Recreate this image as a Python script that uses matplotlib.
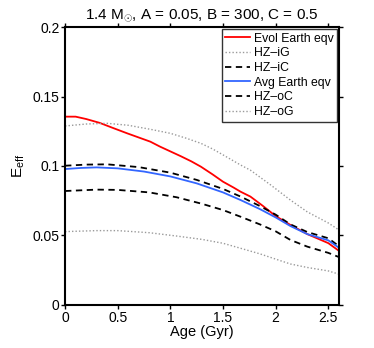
import matplotlib
matplotlib.use("Agg")
import matplotlib.pyplot as plt

plt.rcParams['font.family'] = ['Liberation Sans', 'DejaVu Sans']
plt.rcParams['mathtext.fontset'] = 'custom'
plt.rcParams['mathtext.rm'] = 'Liberation Sans'
plt.rcParams['mathtext.it'] = 'Liberation Sans:italic'

# Data
evol_x = [0.0, 0.1, 0.2, 0.33, 0.45, 0.59, 0.7, 0.81, 0.9, 1.0, 1.1, 1.2, 1.29, 1.4, 1.5, 1.6, 1.667, 1.76, 1.88, 2.0, 2.14, 2.3, 2.5, 2.6]
evol_y = [0.1355, 0.1355, 0.1338, 0.131, 0.1275, 0.1235, 0.1205, 0.1175, 0.114, 0.1105, 0.107, 0.1033, 0.0995, 0.094, 0.0887, 0.0845, 0.0815, 0.078, 0.0712, 0.064, 0.0576, 0.051, 0.0445, 0.039]

avg_x = [0.0, 0.15, 0.3, 0.5, 0.75, 1.0, 1.25, 1.5, 1.667, 1.85, 2.0, 2.14, 2.3, 2.5, 2.6]
avg_y = [0.0978, 0.0986, 0.099, 0.0983, 0.096, 0.0925, 0.0875, 0.081, 0.0755, 0.069, 0.063, 0.0568, 0.051, 0.0465, 0.0412]

iC_x = [0.0, 0.2, 0.4, 0.7, 1.0, 1.25, 1.5, 1.667, 1.85, 2.0, 2.14, 2.3, 2.5, 2.6]
iC_y = [0.1002, 0.101, 0.1012, 0.0992, 0.0952, 0.09, 0.0835, 0.078, 0.0712, 0.065, 0.058, 0.0525, 0.048, 0.0424]

oC_x = [0.0, 0.3, 0.5, 0.8, 1.06, 1.3, 1.5, 1.667, 1.85, 2.0, 2.14, 2.3, 2.5, 2.6]
oC_y = [0.082, 0.083, 0.0828, 0.081, 0.0775, 0.0728, 0.0683, 0.0635, 0.058, 0.053, 0.0468, 0.042, 0.0375, 0.0345]

iG_x = [0.0, 0.2, 0.4, 0.6, 0.81, 1.0, 1.15, 1.29, 1.4, 1.5, 1.667, 1.76, 1.95, 2.14, 2.3, 2.5, 2.6]
iG_y = [0.1288, 0.1302, 0.1307, 0.1293, 0.1264, 0.1235, 0.12, 0.1163, 0.1123, 0.108, 0.1007, 0.097, 0.0865, 0.0755, 0.067, 0.059, 0.054]

oG_x = [0.0, 0.3, 0.5, 0.8, 1.06, 1.3, 1.5, 1.667, 1.85, 2.0, 2.14, 2.3, 2.5, 2.6]
oG_y = [0.0528, 0.0535, 0.0535, 0.052, 0.0496, 0.0472, 0.0444, 0.0408, 0.0368, 0.033, 0.0295, 0.027, 0.0245, 0.0222]

x_ticks = [0, 0.5, 1, 1.5, 2, 2.5]
x_ticklabels = ['0', '0.5', '1', '1.5', '2', '2.5']
y_ticks = [0, 0.05, 0.1, 0.15, 0.2]
y_ticklabels = ['0', '0.05', '0.1', '0.15', '0.2']

fig = plt.figure(figsize=(3.74, 3.48), dpi=100)
ax = fig.add_axes([0.174, 0.1236, 0.732, 0.7988])

gray = '#9a9a9a'
ax.plot(evol_x, evol_y, color='#ff0000', lw=1.3, label='Evol Earth eqv')
ax.plot(iG_x, iG_y, color=gray, lw=1.0, ls=(0, (1, 1.5)), label='HZ\u2013iG')
ax.plot(iC_x, iC_y, color='black', lw=1.3, ls=(0, (3.5, 2.5)), label='HZ\u2013iC')
ax.plot(avg_x, avg_y, color='#3366ff', lw=1.3, label='Avg Earth eqv')
ax.plot(oC_x, oC_y, color='black', lw=1.3, ls=(0, (3.5, 2.5)), label='HZ\u2013oC')
ax.plot(oG_x, oG_y, color=gray, lw=1.0, ls=(0, (1, 1.5)), label='HZ\u2013oG')

ax.set_xlim(0, 2.6)
ax.set_ylim(0, 0.2)
ax.set_xticks(x_ticks)
ax.set_xticklabels(x_ticklabels)
ax.set_yticks(y_ticks)
ax.set_yticklabels(y_ticklabels)
ax.tick_params(direction='out', length=3, width=1.0, labelsize=10, pad=1,
               top=True, right=True)
for s in ax.spines.values():
    s.set_linewidth(1.5)

ax.set_xlabel('Age (Gyr)', fontsize=10.5, labelpad=0)
ax.set_ylabel(r'E$_{\rm eff}$', fontsize=11, labelpad=4)
ax.set_title(r'1.4 M$_{\odot}$, A = 0.05, B = 300, C = 0.5', fontsize=11, pad=6)

leg = ax.legend(loc='upper right', fontsize=8.8, frameon=True, fancybox=False,
                edgecolor='black', handlelength=2.0, handletextpad=0.3,
                labelspacing=0.22, borderpad=0.3, borderaxespad=0.15)
leg.get_frame().set_linewidth(1.0)

fig.savefig('out.png', dpi=100)
